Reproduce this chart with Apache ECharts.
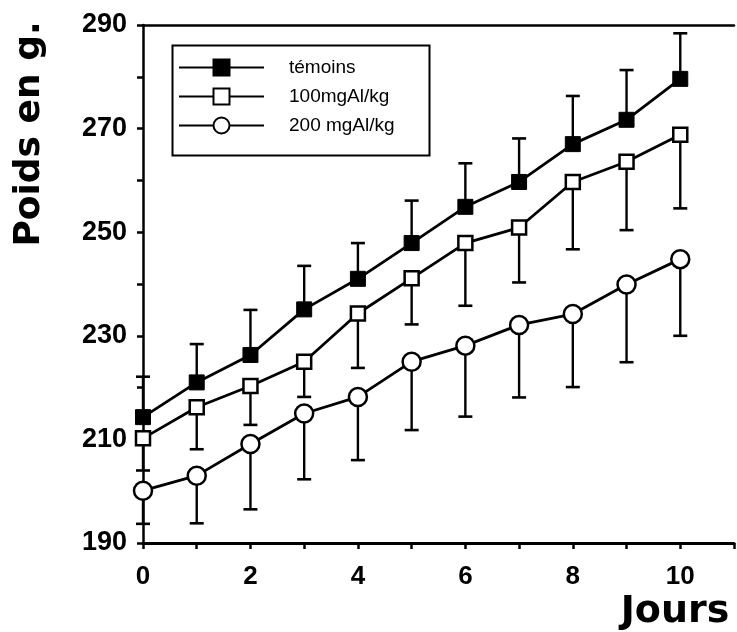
<!DOCTYPE html>
<html>
<head>
<meta charset="utf-8">
<script src="https://cdn.jsdelivr.net/npm/echarts@6/dist/echarts.min.js"></script>
<style>
  html, body { margin: 0; padding: 0; background: #fff; }
  #chart { width: 737px; height: 632px; }
</style>
</head>
<body>
<div id="chart"></div>
<script>
// ---- data ----
const days = [0, 1, 2, 3, 4, 5, 6, 7, 8, 9, 10];
const seriesNames = ['témoins', '100mgAl/kg', '200 mgAl/kg'];
const temoins      = [214.3, 221.0, 226.3, 235.1, 241.0, 247.9, 254.9, 259.7, 267.0, 271.7, 279.6];
const temoinsUpper = [222.1, 228.4, 235.0, 243.5, 247.9, 256.1, 263.3, 268.1, 276.3, 281.3, 288.4];
const dose100      = [210.2, 216.2, 220.3, 225.0, 234.3, 241.1, 247.9, 250.9, 259.7, 263.6, 268.8];
const dose100Lower = [204.0, 208.1, 212.8, 218.2, 223.8, 232.2, 235.8, 240.3, 246.7, 250.4, 254.6];
const dose200      = [200.1, 203.0, 209.1, 215.0, 218.2, 225.0, 228.1, 232.1, 234.2, 239.9, 244.8];
const dose200Lower = [193.7, 193.8, 196.5, 202.3, 206.0, 211.8, 214.4, 218.1, 220.1, 224.9, 230.0];
const yLabelTicks = [190, 210, 230, 250, 270, 290];
const xLabelTicks = [0, 2, 4, 6, 8, 10];
const yTitle = 'Poids en g.';
const xTitle = 'Jours';

// ---- helpers ----
const pts = (vals) => days.map((d, i) => [d, vals[i]]);
const errPts = (vals, bounds) => days.map((d, i) => [d, vals[i], bounds[i]]);

function renderErr(params, api) {
  const x = api.value(0), v = api.value(1), b = api.value(2);
  const p1 = api.coord([x, v]);
  const p2 = api.coord([x, b]);
  const hw = 7;
  return {
    type: 'group',
    children: [
      { type: 'line', shape: { x1: p1[0], y1: p1[1], x2: p2[0], y2: p2[1] },
        style: { stroke: '#000', lineWidth: 2.4 } },
      { type: 'line', shape: { x1: p2[0] - hw, y1: p2[1], x2: p2[0] + hw, y2: p2[1] },
        style: { stroke: '#000', lineWidth: 2.6 } }
    ]
  };
}

const labelFont = 'Liberation Sans';
const chart = echarts.init(document.getElementById('chart'), null, { renderer: 'canvas' });

const lineCommon = {
  type: 'line',
  z: 5,
  lineStyle: { color: '#000', width: 2.8 },
  emphasis: { disabled: true }
};

chart.setOption({
  animation: false,
  backgroundColor: '#fff',
  grid: { left: 143, right: 0, top: 25, bottom: 89, containLabel: false },
  legend: {
    orient: 'vertical',
    left: 178,
    top: 58,
    padding: 0,
    itemWidth: 85,
    itemHeight: 20,
    itemGap: 10,
    selectedMode: false,
    data: seriesNames,
    textStyle: { fontFamily: labelFont, fontSize: 19, color: '#000', padding: [0, 0, 0, 20] }
  },
  xAxis: [{
    type: 'value',
    min: 0, max: 11, interval: 1,
    position: 'bottom',
    axisLine: { lineStyle: { color: '#000', width: 3 } },
    axisTick: { show: true, inside: false, length: 6, lineStyle: { color: '#000', width: 2.5 } },
    splitLine: { show: false },
    axisLabel: {
      margin: 21,
      fontFamily: labelFont, fontWeight: 'bold', fontSize: 26, color: '#000',
      formatter: (v) => (xLabelTicks.indexOf(v) >= 0 ? String(v) : '')
    }
  }, {
    type: 'value',
    min: 0, max: 11,
    position: 'top',
    axisLine: { show: true, onZero: false, lineStyle: { color: '#000', width: 2.5 } },
    axisTick: { show: false },
    axisLabel: { show: false },
    splitLine: { show: false }
  }],
  yAxis: {
    type: 'value',
    min: 190, max: 290, interval: 10,
    axisLine: { show: true, lineStyle: { color: '#000', width: 2.5 } },
    axisTick: { show: true, inside: false, length: 6, lineStyle: { color: '#000', width: 2.5 } },
    splitLine: { show: false },
    axisLabel: {
      margin: 16,
      fontFamily: labelFont, fontWeight: 'bold', fontSize: 27, color: '#000',
      formatter: (v) => (yLabelTicks.indexOf(v) >= 0 ? String(v) : '')
    }
  },
  series: [
    { type: 'custom', name: 'err-t', renderItem: renderErr, encode: { x: 0, y: [1, 2] },
      data: errPts(temoins, temoinsUpper), z: 2, silent: true },
    { type: 'custom', name: 'err-100', renderItem: renderErr, encode: { x: 0, y: [1, 2] },
      data: errPts(dose100, dose100Lower), z: 2, silent: true },
    { type: 'custom', name: 'err-200', renderItem: renderErr, encode: { x: 0, y: [1, 2] },
      data: errPts(dose200, dose200Lower), z: 2, silent: true },
    Object.assign({}, lineCommon, {
      name: seriesNames[0], data: pts(temoins),
      symbol: 'rect', symbolSize: 15,
      itemStyle: { color: '#000', borderColor: '#000', borderWidth: 1 }
    }),
    Object.assign({}, lineCommon, {
      name: seriesNames[1], data: pts(dose100),
      symbol: 'rect', symbolSize: 14,
      itemStyle: { color: '#fff', borderColor: '#000', borderWidth: 2.5 }
    }),
    Object.assign({}, lineCommon, {
      name: seriesNames[2], data: pts(dose200),
      symbol: 'circle', symbolSize: 18,
      itemStyle: { color: '#fff', borderColor: '#000', borderWidth: 2.5 }
    })
  ],
  graphic: [
    { type: 'rect', left: 170, top: 43, shape: { width: 257, height: 110 },
      style: { fill: 'none', stroke: '#000', lineWidth: 2 }, z: 10, silent: true },
    { type: 'text', x: 30, y: 134, rotation: Math.PI / 2, z: 10, silent: true,
      style: { text: yTitle, fontFamily: 'DejaVu Sans', fontWeight: 'bold', fontSize: 36,
               fill: '#000', align: 'center', verticalAlign: 'middle' } },
    { type: 'text', x: 675, y: 612, z: 10, silent: true,
      style: { text: xTitle, fontFamily: 'DejaVu Sans', fontWeight: 'bold', fontSize: 38,
               fill: '#000', align: 'center', verticalAlign: 'middle' } }
  ]
});
</script>
</body>
</html>
